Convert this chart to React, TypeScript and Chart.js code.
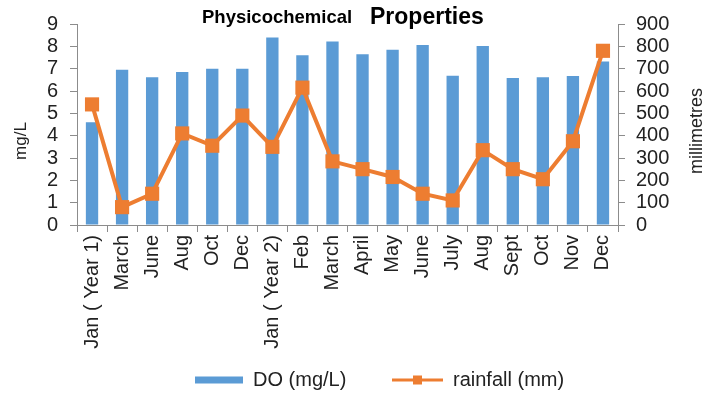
import React, { useEffect, useRef } from "react";
import { Chart, registerables } from "chart.js";

Chart.register(...registerables);

const categories = [
  "Jan ( Year 1)", "March", "June", "Aug", "Oct", "Dec",
  "Jan ( Year 2)", "Feb", "March", "April", "May", "June",
  "July", "Aug", "Sept", "Oct", "Nov", "Dec",
];

const doValues = [
  4.6, 6.95, 6.62, 6.85, 7.0, 7.0,
  8.4, 7.6, 8.22, 7.65, 7.85, 8.06,
  6.68, 8.01, 6.58, 6.62, 6.67, 7.32,
];

const rainfallValues = [
  540, 80, 140, 410, 355, 490,
  350, 615, 285, 250, 215, 140,
  110, 335, 250, 205, 375, 780,
];

const leftTicks = [0, 9, 1];
const rightTicks = [0, 900, 100];

const BLUE = "#5B9BD5";
const ORANGE = "#ED7D31";
const AXIS = "#8C8C8C";
const FONT = "'Liberation Sans', Arial, sans-serif";

const decorations = {
  id: "decorations",
  afterDraw(chart: any) {
    const ctx = chart.ctx as CanvasRenderingContext2D;
    ctx.save();
    ctx.fillStyle = "#000";
    ctx.textBaseline = "alphabetic";
    ctx.textAlign = "left";
    ctx.font = `bold 18.5px ${FONT}`;
    ctx.fillText("Physicochemical", 202, 23);
    ctx.font = `bold 23px ${FONT}`;
    ctx.fillText("Properties", 370, 24);

    // axis titles, both reading bottom to top
    ctx.textAlign = "center";
    ctx.textBaseline = "middle";
    ctx.fillStyle = "#222";
    ctx.font = `17px ${FONT}`;
    ctx.save();
    ctx.translate(21, 141);
    ctx.rotate(-Math.PI / 2);
    ctx.fillText("mg/L", 0, 0);
    ctx.restore();
    ctx.font = `18px ${FONT}`;
    ctx.save();
    ctx.translate(697, 131);
    ctx.rotate(-Math.PI / 2);
    ctx.fillText("millimetres", 0, 0);
    ctx.restore();

    // legend
    const ly = 380;
    ctx.fillStyle = BLUE;
    ctx.fillRect(195, ly - 3.5, 48, 7);
    ctx.fillStyle = "#222";
    ctx.textAlign = "left";
    ctx.textBaseline = "alphabetic";
    ctx.font = `20px ${FONT}`;
    ctx.fillText("DO (mg/L)", 253, 386);

    ctx.strokeStyle = ORANGE;
    ctx.lineWidth = 3;
    ctx.beginPath();
    ctx.moveTo(392, ly);
    ctx.lineTo(443, ly);
    ctx.stroke();
    ctx.fillStyle = ORANGE;
    ctx.fillRect(417.5 - 4.5, ly - 4.5, 9, 9);
    ctx.fillStyle = "#222";
    ctx.fillText("rainfall (mm)", 453, 386);
    ctx.restore();
  },
};

export default function App() {
  const canvasRef = useRef<HTMLCanvasElement | null>(null);

  useEffect(() => {
    const canvas = canvasRef.current;
    if (!canvas) return;
    const chart = new Chart(canvas, {
      type: "bar",
      data: {
        labels: categories,
        datasets: [
          {
            type: "line",
            label: "rainfall (mm)",
            data: rainfallValues,
            yAxisID: "y1",
            borderColor: ORANGE,
            backgroundColor: ORANGE,
            borderWidth: 4,
            pointStyle: "rect",
            pointRadius: 10,
            pointBorderWidth: 0,
            pointBackgroundColor: ORANGE,
            tension: 0,
            order: 0,
          } as any,
          {
            type: "bar",
            label: "DO (mg/L)",
            data: doValues,
            yAxisID: "y",
            backgroundColor: BLUE,
            borderWidth: 0,
            barPercentage: 0.41,
            categoryPercentage: 1,
            order: 1,
          },
        ],
      },
      options: {
        animation: false,
        responsive: false,
        maintainAspectRatio: false,
        layout: { padding: { top: 22, bottom: 0, left: 0, right: 0 } },
        plugins: {
          legend: { display: false },
          title: { display: false },
          tooltip: { enabled: false },
        },
        scales: {
          x: {
            offset: true,
            grid: {
              offset: true,
              drawOnChartArea: false,
              drawTicks: true,
              tickLength: 7,
              color: AXIS,
            },
            border: { color: AXIS, width: 1 },
            ticks: {
              autoSkip: false,
              maxRotation: 90,
              minRotation: 90,
              padding: 3,
              color: "#222",
              font: { family: FONT, size: 20 },
            },
            afterFit(scale: any) {
              scale.height = 394 - 225;
            },
          },
          y: {
            position: "left",
            min: leftTicks[0],
            max: leftTicks[1],
            grid: {
              drawOnChartArea: false,
              drawTicks: true,
              tickLength: 7,
              color: AXIS,
            },
            border: { color: AXIS, width: 1 },
            ticks: {
              stepSize: leftTicks[2],
              autoSkip: false,
              padding: 12,
              color: "#222",
              font: { family: FONT, size: 20 },
            },
            afterFit(scale: any) {
              scale.width = 77;
            },
          },
          y1: {
            position: "right",
            min: rightTicks[0],
            max: rightTicks[1],
            grid: {
              drawOnChartArea: false,
              drawTicks: true,
              tickLength: 7,
              color: AXIS,
            },
            border: { color: AXIS, width: 1 },
            ticks: {
              stepSize: rightTicks[2],
              autoSkip: false,
              padding: 11,
              color: "#222",
              font: { family: FONT, size: 20 },
            },
            afterFit(scale: any) {
              scale.width = 717 - 618;
            },
          },
        },
      },
      plugins: [decorations],
    });
    return () => chart.destroy();
  }, []);

  return (
    <div
      style={{
        position: "fixed",
        left: 0,
        top: 0,
        width: 717,
        height: 394,
        background: "#fff",
      }}
    >
      <canvas ref={canvasRef} width={717} height={394} />
    </div>
  );
}
